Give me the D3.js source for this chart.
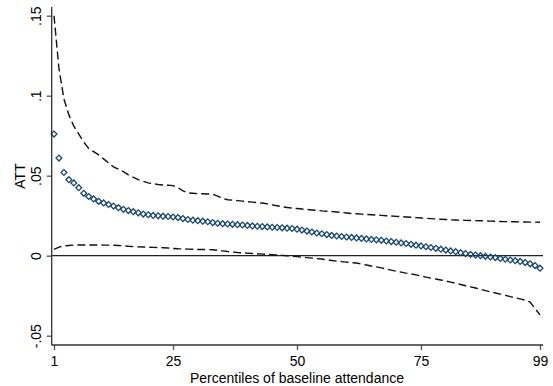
<!DOCTYPE html>
<html>
<head>
<meta charset="utf-8">
<script src="https://cdn.jsdelivr.net/npm/d3@7"></script>
<style>
  body { margin: 0; background: #fff; }
  text { font-family: "Liberation Sans", Arial, sans-serif; fill: #000; }
</style>
</head>
<body>
<script>
// percentiles 1..99
var percentiles = d3.range(1, 100);

var att = [
  .076, .061, .052, .0475, .0455, .0425, .039, .037, .0355, .034,
  .033, .032, .031, .030, .029, .0282, .0275, .0268, .026, .0256,
  .0252, .0249, .0247, .0245, .0242, .0238, .0232, .0226, .0222, .0219,
  .0216, .0212, .0207, .0203, .0200, .0198, .0196, .0194, .0192, .0189,
  .0186, .0184, .0182, .0180, .0178, .0176, .0174, .0172, .0170, .0166,
  .0160, .0154, .0148, .0142, .0137, .0132, .0127, .0123, .0120, .0117,
  .0114, .0111, .0108, .0105, .0102, .0099, .0096, .0092, .0088, .0084,
  .0080, .0076, .0071, .0066, .0061, .0056, .0051, .0046, .0041, .0035,
  .0030, .0025, .0019, .0013, .0008, .0004, .0000, -.0004, -.0008, -.0012,
  -.0017, -.0022, -.0027, -.0031, -.0036, -.0043, -.0051, -.0062, -.0078
];

var upper = [
  .150, .117, .098, .088, .081, .076, .071, .067, .065, .063,
  .0605, .058, .0555, .054, .0525, .0505, .049, .0475, .0465, .0455,
  .045, .0445, .0442, .044, .0438, .0425, .0405, .0392, .039, .0388,
  .0387, .0386, .0384, .0372, .0358, .0350, .0347, .0344, .0341, .0338,
  .0335, .0332, .0329, .0324, .0318, .0312, .0306, .0301, .0298, .0295,
  .0292, .0289, .0286, .0283, .0280, .0278, .0276, .0273, .0270, .0267,
  .0264, .0262, .0260, .0258, .0256, .0254, .0252, .0250, .0248, .0246,
  .0244, .0242, .0240, .0238, .0236, .0234, .0232, .0230, .0228, .0226,
  .0224, .0223, .0222, .0221, .0220, .0219, .0218, .0217, .0216, .0215,
  .0214, .0213, .0212, .0212, .0211, .0211, .0210, .0210, .0209
];

var lower = [
  .0040, .0054, .0061, .0064, .0066, .0067, .0067, .0067, .0067, .0067,
  .0066, .0066, .0065, .0064, .0062, .0059, .0057, .0055, .0054, .0053,
  .0052, .0051, .0050, .0048, .0045, .0043, .0042, .0041, .0040, .0039,
  .0039, .0038, .0037, .0034, .0030, .0026, .0023, .0020, .0018, .0016,
  .0014, .0012, .0010, .0008, .0006, .0004, .0002, .0000, -.0003, -.0006,
  -.0009, -.0012, -.0015, -.0018, -.0021, -.0025, -.0030, -.0034, -.0037, -.0040,
  -.0043, -.0046, -.0052, -.0058, -.0064, -.0070, -.0076, -.0083, -.0090, -.0097,
  -.0103, -.0109, -.0114, -.0120, -.0127, -.0134, -.0140, -.0146, -.0152, -.0158,
  -.0165, -.0172, -.0180, -.0188, -.0195, -.0202, -.0210, -.0218, -.0226, -.0233,
  -.0240, -.0248, -.0256, -.0263, -.0270, -.0278, -.0290, -.0330, -.0370
];

var xTicks = [1, 25, 50, 75, 99];
var yTicks = [-.05, 0, .05, .1, .15];
var yTickLabels = ["-.05", "0", ".05", ".1", ".15"];

var W = 553, H = 386;
var plotLeft = 51.7, plotRight = 543, plotTop = 7, plotBottom = 345;
var fs = 14, tickFs = 14;

var xScale = d3.scaleLinear().domain([1, 99]).range([54, 540]);
var yScale = d3.scaleLinear().domain([-.05, .15]).range([335.7, 15.7]);

var svg = d3.select("body").append("svg")
  .attr("width", W).attr("height", H);

var rows = percentiles.map((p, i) => ({p: p, att: att[i], lo: lower[i], hi: upper[i]}));

// zero line
svg.append("line")
  .attr("x1", plotLeft).attr("x2", plotRight)
  .attr("y1", yScale(0)).attr("y2", yScale(0))
  .attr("stroke", "#222").attr("stroke-width", 1.3);

// CI lines
var ciLine = key => d3.line().x(d => xScale(d.p)).y(d => yScale(d[key]));
["hi", "lo"].forEach(k => {
  svg.append("path")
    .datum(rows)
    .attr("d", ciLine(k))
    .attr("fill", "none")
    .attr("stroke", "#111")
    .attr("stroke-width", 1.4)
    .attr("stroke-dasharray", "8,4");
});

// diamonds
var diamond = d3.symbol().type(d3.symbolSquare).size(17);
svg.selectAll("path.pt")
  .data(rows)
  .enter()
  .append("path")
  .attr("class", "pt")
  .attr("d", diamond)
  .attr("transform", d => "translate(" + xScale(d.p) + "," + yScale(d.att) + ") rotate(45)")
  .attr("fill", "none")
  .attr("stroke", "#1a476f")
  .attr("stroke-width", 1.3);

// axes
var xAxis = d3.axisBottom(xScale).tickValues(xTicks).tickSize(5).tickSizeOuter(0).tickPadding(6.5);
var gx = svg.append("g").attr("transform", "translate(0," + plotBottom + ")").call(xAxis);
gx.select(".domain").remove();
gx.append("line").attr("x1", plotLeft).attr("x2", plotRight).attr("stroke", "#333").attr("stroke-width", 1.3);
gx.selectAll(".tick line").attr("stroke", "#555").attr("stroke-width", 1.3);
gx.selectAll(".tick text").attr("font-size", tickFs).attr("font-family", "Liberation Sans, Arial, sans-serif").attr("fill", "#000");

var yAxis = d3.axisLeft(yScale).tickValues(yTicks).tickSize(5).tickSizeOuter(0)
  .tickFormat((d, i) => yTickLabels[i]);
var gy = svg.append("g").attr("transform", "translate(" + plotLeft + ",0)").call(yAxis);
gy.select(".domain").remove();
gy.append("line").attr("y1", plotTop).attr("y2", plotBottom).attr("stroke", "#333").attr("stroke-width", 1.3);
gy.selectAll(".tick line").attr("stroke", "#555").attr("stroke-width", 1.3);
gy.selectAll(".tick text")
  .attr("font-size", tickFs).attr("font-family", "Liberation Sans, Arial, sans-serif").attr("fill", "#000")
  .attr("x", null).attr("dy", null)
  .attr("text-anchor", "middle")
  .attr("transform", "translate(-11,0) rotate(-90)");

// titles
svg.append("text")
  .attr("x", 297).attr("y", 382.5)
  .attr("text-anchor", "middle").attr("font-size", fs)
  .text("Percentiles of baseline attendance");

svg.append("text")
  .attr("transform", "translate(25," + (plotTop + plotBottom) / 2 + ") rotate(-90)")
  .attr("text-anchor", "middle").attr("font-size", fs)
  .text("ATT");
</script>
</body>
</html>
